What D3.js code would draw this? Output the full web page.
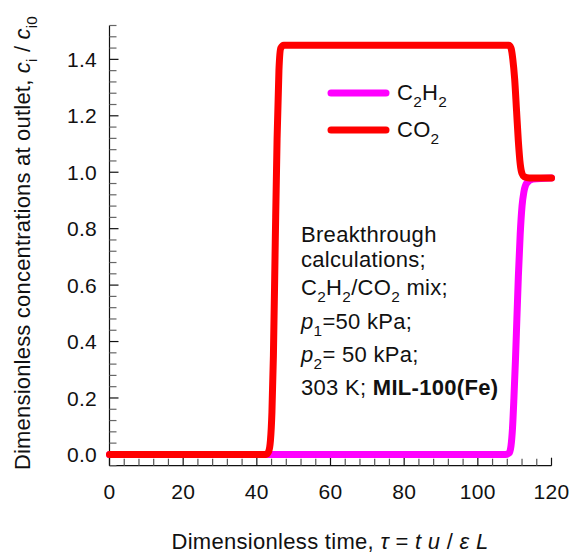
<!DOCTYPE html>
<html>
<head>
<meta charset="utf-8">
<script src="https://cdn.jsdelivr.net/npm/d3@7"></script>
<style>
  body { margin: 0; background: #fff; }
  svg text { font-family: "Liberation Sans", Arial, sans-serif; fill: #111; }
</style>
</head>
<body>
<div id="display"></div>
<script>
// breakthrough curves
const co2Time = [0, 40, 42.5, 43.2, 43.7, 44.1, 44.5, 45, 45.5, 46, 46.5, 47.3, 50, 80, 107, 108.4, 109, 109.5, 110, 110.5, 111, 111.5, 112, 112.6, 114, 120];
const co2Vals = [0, 0, 0, 0.01, 0.05, 0.15, 0.35, 0.75, 1.12, 1.36, 1.44, 1.45, 1.45, 1.45, 1.45, 1.45, 1.44, 1.40, 1.33, 1.22, 1.11, 1.03, 0.995, 0.984, 0.98, 0.98];
const c2h2Time = [0, 40, 80, 107.5, 108.5, 109, 109.4, 109.8, 110.2, 110.6, 111, 111.5, 112, 112.5, 113.3, 115, 120];
const c2h2Vals = [0, 0, 0, 0, 0.005, 0.03, 0.09, 0.2, 0.33, 0.48, 0.63, 0.78, 0.88, 0.93, 0.962, 0.976, 0.98];

const xTicks = [0, 20, 40, 60, 80, 100, 120];
const yTicks = [0, 0.2, 0.4, 0.6, 0.8, 1.0, 1.2, 1.4];

const seriesNames = ['C2H2', 'CO2'];
const seriesColors = ['#ff00ff', '#ff0000'];

const w = 575;
const h = 556;
const tickSize = 21;
const fontSize = 22;

const xScale = d3.scaleLinear().domain([0, 120]).range([109.5, 551.5]);
const yScale = d3.scaleLinear().domain([-0.04, 1.52]).range([465.7, 25.5]);

const viz = d3.select('#display').append('svg')
    .attr('width', w)
    .attr('height', h);

// text with sub/italic/bold pieces: [text, 'sub' | 'i' | 'b' | undefined]
const richText = (sel, parts, size) => {
    let shift = 0;
    parts.forEach(([t, kind]) => {
        const ts = sel.append('tspan').text(t);
        if (kind === 'sub') {
            ts.attr('dy', size * 0.3 - shift).style('font-size', (size * 0.7) + 'px');
            shift = size * 0.3;
            return;
        }
        if (shift) ts.attr('dy', -shift);
        shift = 0;
        if (kind === 'i') ts.style('font-style', 'italic');
        if (kind === 'b') ts.style('font-weight', 'bold');
    });
};

// axes: inward ticks, minor ones lighter
const xMinor = d3.range(0, 121, 4);
const yMinor = d3.range(-0.04, 1.521, 0.04).map((d) => +d.toFixed(2));
const isMajorY = (d) => yTicks.some((t) => Math.abs(t - d) < 1e-6);

const axes = viz.append('g');
axes.append('line')
    .attr('x1', xScale(0)).attr('x2', xScale(0))
    .attr('y1', yScale(1.52)).attr('y2', yScale(-0.04))
    .attr('stroke', '#111').attr('stroke-width', 1.2);
axes.append('line')
    .attr('x1', xScale(0)).attr('x2', xScale(120))
    .attr('y1', yScale(-0.04)).attr('y2', yScale(-0.04))
    .attr('stroke', '#111').attr('stroke-width', 1.2);

axes.selectAll('.ytick')
    .data(yMinor)
    .enter()
    .append('line')
    .attr('x1', xScale(0))
    .attr('x2', (d) => xScale(0) + (isMajorY(d) ? 9 : 7))
    .attr('y1', (d) => yScale(d)).attr('y2', (d) => yScale(d))
    .attr('stroke', (d) => isMajorY(d) ? '#111' : '#666')
    .attr('stroke-width', 1.2);

axes.selectAll('.xtick')
    .data(xMinor)
    .enter()
    .append('line')
    .attr('x1', (d) => xScale(d)).attr('x2', (d) => xScale(d))
    .attr('y1', yScale(-0.04))
    .attr('y2', (d) => yScale(-0.04) - (d % 20 === 0 ? 8 : 7))
    .attr('stroke', (d) => d % 20 === 0 ? '#111' : '#555')
    .attr('stroke-width', 1.2);

axes.selectAll('.ylab')
    .data(yTicks)
    .enter()
    .append('text')
    .attr('x', 97)
    .attr('y', (d) => yScale(d))
    .attr('dy', '0.36em')
    .attr('text-anchor', 'end')
    .style('font-size', tickSize + 'px')
    .style('letter-spacing', '0.3px')
    .text((d) => d.toFixed(1));

axes.selectAll('.xlab')
    .data(xTicks)
    .enter()
    .append('text')
    .attr('x', (d) => xScale(d))
    .attr('y', 499)
    .attr('text-anchor', 'middle')
    .style('font-size', tickSize + 'px')
    .style('letter-spacing', '0.3px')
    .text((d) => d);

// axis titles
const xTitle = viz.append('text')
    .attr('x', 330)
    .attr('y', 549)
    .attr('text-anchor', 'middle')
    .style('font-size', fontSize + 'px')
    .style('letter-spacing', '0.3px');
richText(xTitle, [['Dimensionless time, '], ['\u03c4', 'i'], [' = '], ['t u', 'i'], [' / '], ['\u03b5 L', 'i']], fontSize);

const yTitle = viz.append('text')
    .attr('transform', 'translate(30,243) rotate(-90)')
    .attr('text-anchor', 'middle')
    .style('font-size', fontSize + 'px')
    .style('letter-spacing', '0.2px');
richText(yTitle, [['Dimensionless concentrations at outlet, '], ['c', 'i'], ['i', 'sub'], [' / '], ['c', 'i'], ['i0', 'sub']], fontSize);

// curves
const lineMaker = d3.line()
    .x((d) => xScale(d[0]))
    .y((d) => yScale(d[1]))
    .curve(d3.curveMonotoneX);

const curves = [
    d3.zip(c2h2Time, c2h2Vals),
    d3.zip(co2Time, co2Vals)
];

viz.append('g').selectAll('path')
    .data(curves)
    .enter()
    .append('path')
    .attr('d', lineMaker)
    .attr('fill', 'none')
    .attr('stroke', (d, i) => seriesColors[i])
    .attr('stroke-width', 7)
    .attr('stroke-linecap', 'round')
    .attr('stroke-linejoin', 'round');

// legend
const legendParts = [
    [['C'], ['2', 'sub'], ['H'], ['2', 'sub']],
    [['CO'], ['2', 'sub']]
];
const legend = viz.append('g');
seriesNames.forEach((name, i) => {
    const ly = 93 + i * 37;
    legend.append('line')
        .attr('x1', 331).attr('x2', 386)
        .attr('y1', ly).attr('y2', ly)
        .attr('stroke', seriesColors[i])
        .attr('stroke-width', 7)
        .attr('stroke-linecap', 'round');
    const t = legend.append('text')
        .attr('x', 397)
        .attr('y', ly + 7)
        .style('font-size', fontSize + 'px')
        .style('letter-spacing', '0.3px');
    richText(t, legendParts[i], fontSize);
});

// annotation block
const noteLines = [
    [['Breakthrough']],
    [['calculations;']],
    [['C'], ['2', 'sub'], ['H'], ['2', 'sub'], ['/CO'], ['2', 'sub'], [' mix;']],
    [['p', 'i'], ['1', 'sub'], ['=50 kPa;']],
    [['p', 'i'], ['2', 'sub'], ['= 50 kPa;']],
    [['303 K; '], ['MIL-100(Fe)', 'b']]
];
const noteY = [242, 267, 295, 329, 362, 395];
noteLines.forEach((parts, i) => {
    const t = viz.append('text')
        .attr('x', 301)
        .attr('y', noteY[i])
        .style('font-size', fontSize + 'px')
        .style('letter-spacing', '0.3px');
    richText(t, parts, fontSize);
});
</script>
</body>
</html>
